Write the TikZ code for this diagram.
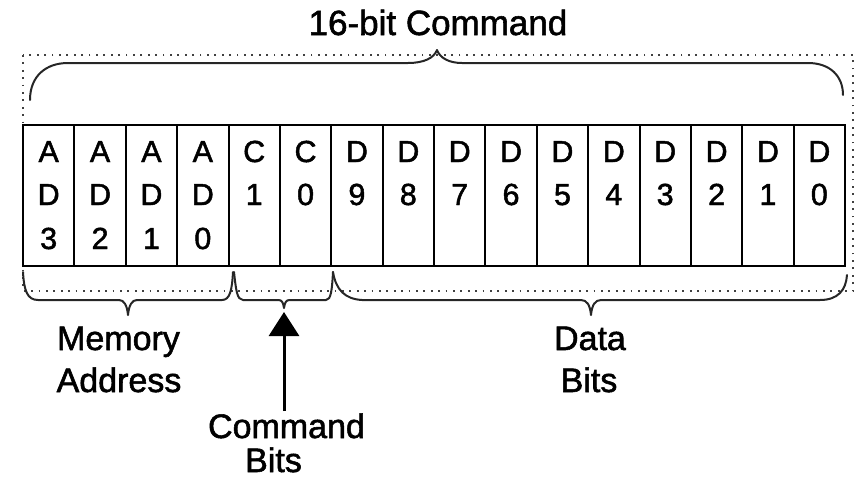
\documentclass[tikz,border=0pt]{standalone}
\usepackage{fontspec}
\setmainfont[FakeBold=1.6]{Liberation Sans}
\usetikzlibrary{arrows.meta,calc}
\tikzset{
  cell/.style={draw=black, line width=2pt, fill=white, minimum width=51.375pt, minimum height=141pt, inner sep=0pt},
  celltxt/.style={anchor=base, inner sep=0pt, font=\fontsize{30.5}{35}\selectfont},
  lbl/.style={anchor=base, inner sep=0pt, font=\fontsize{34}{40}\selectfont},
  ttl/.style={anchor=base, inner sep=0pt, font=\fontsize{35}{42}\selectfont},
  dotbox/.style={draw=black!75, line width=1.8pt, dash pattern=on 1.8pt off 5.6pt},
  bracepath/.style={draw=black!85, line width=2pt, line join=round, line cap=round},
  uparrow/.style={draw=black, line width=3pt, -{Triangle[width=30pt,length=24pt]}}
}
\begin{document}
\begin{tikzpicture}[x=1pt,y=-1pt]
\useasboundingbox (0,0) rectangle (855,485);
% dotted frame
\draw[dotbox] (23,55) rectangle (853,291);
% title
\node[ttl] (title) at (438,35) {16-bit Command};
% top brace
\draw[bracepath] (30,100) .. controls (30,76) and (46,63) .. (68,63) -- (408,63)
  .. controls (424,63) and (434,58) .. (437,50)
  .. controls (440,58) and (449,63) .. (462,63) -- (808,63)
  .. controls (830,63) and (843,76) .. (843,95);
% register cells
\foreach \i/\a/\b in {0/A/D,1/A/D,2/A/D,3/A/D,4/C/1,5/C/0,6/D/9,7/D/8,8/D/7,9/D/6,10/D/5,11/D/4,12/D/3,13/D/2,14/D/1,15/D/0} {
  \node[cell] (cell\i) at ({23+51.375*(\i+0.5)},195.5) {};
  \node[celltxt] (ta\i) at ($(cell\i.north)+(0,38)$) {\a};
  \node[celltxt] (tb\i) at ($(cell\i.north)+(0,81)$) {\b};
}
\foreach \i/\c in {0/3,1/2,2/1,3/0} {
  \node[celltxt] (tc\i) at ($(cell\i.north)+(0,125)$) {\c};
}
% bottom braces
\draw[bracepath] (23,272) .. controls (24,290) and (27,300) .. (38,300) -- (119,300)
  .. controls (124,300) and (127,305) .. (128,315)
  .. controls (129,305) and (132,300) .. (137,300) -- (222,300)
  .. controls (230,300) and (232,290) .. (233,272);
\draw[bracepath] (234,272) .. controls (236,290) and (237,300) .. (243,300) -- (278,300)
  .. controls (282,300) and (283,302) .. (284,308)
  .. controls (285,302) and (286,300) .. (290,300) -- (326,300)
  .. controls (331,300) and (332,290) .. (333,272);
\draw[bracepath] (333,272) .. controls (336,290) and (345,299) .. (362,300) -- (581,300)
  .. controls (587,300) and (590,305) .. (591,315)
  .. controls (592,305) and (595,300) .. (601,300) -- (820,300)
  .. controls (838,300) and (846,290) .. (847,275);
% labels
\node[lbl] (mem1) at (118.5,350) {Memory};
\node[lbl] (mem2) at (119,392) {Address};
\node[lbl] (dat1) at (590,350) {Data};
\node[lbl] (dat2) at (589,392) {Bits};
\node[lbl] (cmd1) at (286.5,438) {Command};
\node[lbl] (cmd2) at (273.5,472) {Bits};
% arrow
\coordinate (cbtip) at (284,312);
\draw[uparrow] ($(cbtip |- cmd1.north)+(0,-2)$) -- (cbtip);
\end{tikzpicture}
\end{document}
